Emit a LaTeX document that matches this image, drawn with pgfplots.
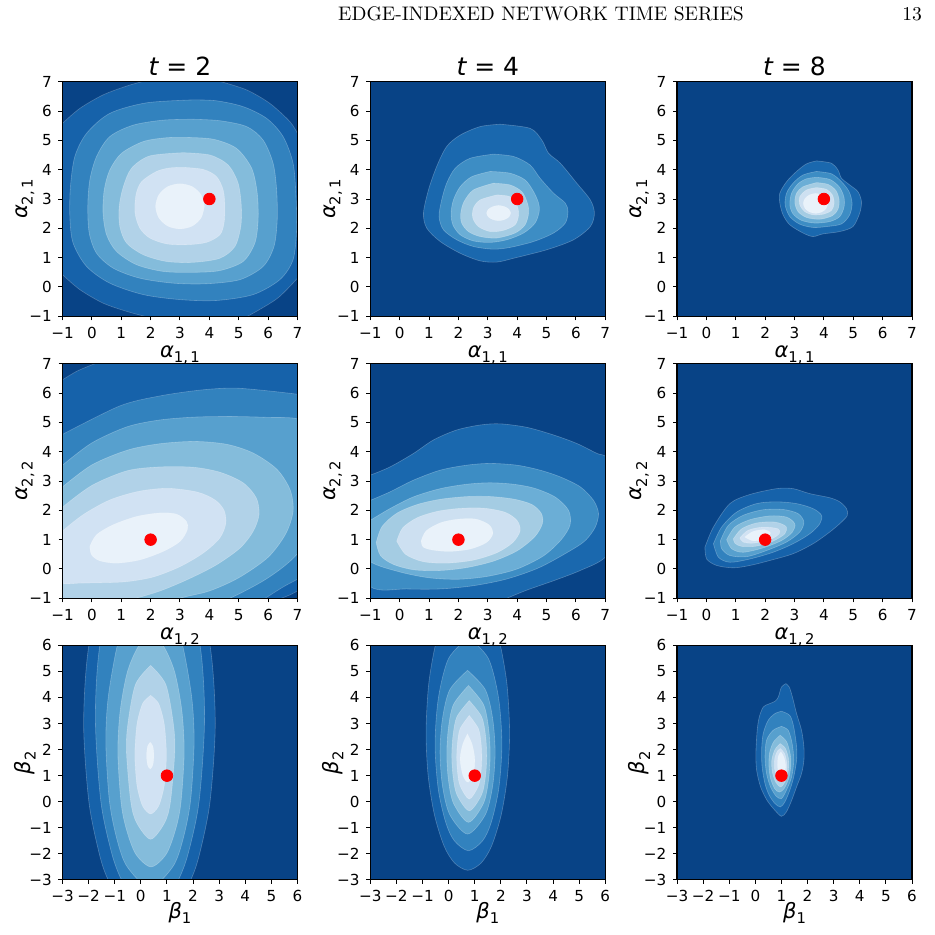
\documentclass[border=0pt]{standalone}
\usepackage{fontspec}
\usepackage{pgfplots}
\pgfplotsset{compat=1.18}
\newfontfamily\dejavu{DejaVu Sans}
\definecolor{c0}{RGB}{8,67,134}
\definecolor{c1}{RGB}{22,98,170}
\definecolor{c2}{RGB}{50,130,190}
\definecolor{c3}{RGB}{87,160,206}
\definecolor{c4}{RGB}{132,188,219}
\definecolor{c5}{RGB}{177,210,232}
\definecolor{c6}{RGB}{209,226,243}
\definecolor{c7}{RGB}{233,242,250}
\definecolor{d1}{RGB}{26,104,174}
\definecolor{d2}{RGB}{61,141,196}
\definecolor{d3}{RGB}{107,174,214}
\definecolor{d4}{RGB}{164,204,227}
\definecolor{d5}{RGB}{205,224,241}
\definecolor{d6}{RGB}{233,242,250}
\newcommand{\al}[2]{{\dejavu\itshape #1}\raisebox{-0.25em}{\dejavu\fontsize{7.4}{7.4}\selectfont #2}}
\newcommand{\band}[2]{\addplot[band=#1] coordinates {#2} -- cycle;}
\newcommand{\truth}[2]{\addplot[only marks,mark=*,mark size=2.9pt,color=red,mark options={draw=none,fill=red}] coordinates {(#1,#2)};}
\pgfplotsset{
  base/.style={width=117.5pt,height=117.3pt,scale only axis,axis on top,
    tick align=outside,tick pos=left,major tick length=2pt,
    major tick style={black,line width=0.5pt},
    axis line style={black,line width=0.55pt},
    tick label style={font=\dejavu\fontsize{7.6}{9}\selectfont},
    xticklabel shift=-0.2pt,yticklabel shift=-0.2pt,
    every axis title/.style={at={(0.5,1)},anchor=base,yshift=2.9pt,font=\dejavu\fontsize{12.5}{14}\selectfont},
    every axis y label/.style={at={(axis description cs:-0.16,0.5)},rotate=90,anchor=center,font=\dejavu\fontsize{10.5}{12}\selectfont},
    every axis x label/.style={at={(axis description cs:0.5,-0.165)},anchor=center,font=\dejavu\fontsize{10.5}{12}\selectfont},
    anchor=north west},
  ra/.style={xmin=-1,xmax=7,ymin=-1,ymax=7,xtick={-1,0,...,7},ytick={-1,0,...,7},
    xticklabels={−1,0,1,2,3,4,5,6,7},yticklabels={−1,0,1,2,3,4,5,6,7}},
  rb/.style={xmin=-3,xmax=6,ymin=-3,ymax=6,xtick={-3,-2,...,6},ytick={-3,-2,...,6},
    xticklabels={−3,−2,−1,0,1,2,3,4,5,6},yticklabels={−3,−2,−1,0,1,2,3,4,5,6},
    every axis x label/.style={at={(axis description cs:0.5,-0.14)},anchor=center,font=\dejavu\fontsize{10.5}{12}\selectfont}},
  band/.style={fill=#1,draw=white,draw opacity=0.25,line width=0.3pt,smooth},
}
\begin{document}
\begin{tikzpicture}
\path[use as bounding box] (0,0) rectangle (467.5pt,-467pt);
\node[anchor=base,font=\fontsize{9.8}{12}\selectfont] at (270.5pt,-10pt) {EDGE-INDEXED NETWORK TIME SERIES};
\node[anchor=base east,font=\fontsize{9.8}{12}\selectfont] at (464.5pt,-10pt) {13};

% ---------- row 1, col 1 ----------
\begin{axis}[base,ra,at={(31.25pt,-40.85pt)},axis background/.style={fill=c1},
  title={{\itshape t} = 2},xlabel={\al{α}{1,\,1}},ylabel={\al{α}{2,\,1}}]
\addplot[band=c0] coordinates {(-1,5.58) (-0.41,6.09) (0.38,6.55) (1.18,6.85) (1.7,7.0)} -- (axis cs:-2,8) -- cycle;
\addplot[band=c0] coordinates {(4.4,7.0) (5.27,6.72) (6.06,6.26) (6.74,5.64) (7.0,5.24)} -- (axis cs:8,8) -- cycle;
\addplot[band=c0] coordinates {(7.0,0.3) (6.3,-0.4) (5.3,-1.0)} -- (axis cs:8,-2) -- cycle;
\addplot[band=c0] coordinates {(1.8,-1.0) (1.18,-0.83) (0.38,-0.55) (-0.41,-0.09) (-1,0.42)} -- (axis cs:-2,-2) -- cycle;
\band{c2}{(3.45,6.38) (4.24,6.35) (5.15,6.15) (5.95,5.75) (6.51,5.13) (6.85,4.22) (6.95,3.08) (6.97,1.95) (6.85,0.93) (6.40,0.25) (5.49,-0.26) (4.24,-0.46) (3.00,-0.43) (1.75,-0.26) (0.61,0.13) (-0.18,0.70) (-0.64,1.50) (-0.75,2.40) (-0.73,3.42) (-0.58,4.45) (-0.18,5.24) (0.61,5.92) (1.86,6.28) (3.45,6.38)}
\band{c3}{(3.45,5.72) (4.36,5.67) (5.27,5.47) (5.83,5.01) (6.17,4.22) (6.29,3.31) (6.31,2.29) (6.20,1.38) (5.83,0.70) (5.04,0.25) (3.90,0.11) (2.77,0.13) (1.63,0.30) (0.73,0.64) (0.16,1.15) (-0.09,1.84) (-0.14,2.74) (-0.07,3.65) (0.16,4.45) (0.61,5.13) (1.41,5.52) (2.43,5.69) (3.45,5.72)}
\band{c4}{(3.22,5.10) (4.13,5.04) (4.92,4.73) (5.44,4.05) (5.63,3.20) (5.66,2.29) (5.55,1.50) (5.15,0.87) (4.36,0.56) (3.45,0.50) (2.43,0.53) (1.52,0.76) (0.84,1.21) (0.50,1.78) (0.38,2.52) (0.42,3.31) (0.61,3.99) (1.01,4.56) (1.75,4.96) (2.54,5.09) (3.22,5.10)}
\band{c5}{(3.11,4.58) (4.02,4.50) (4.64,4.16) (4.98,3.54) (5.09,2.74) (5.07,2.06) (4.87,1.38) (4.36,0.98) (3.45,0.84) (2.54,0.87) (1.75,1.10) (1.18,1.50) (0.95,2.06) (0.93,2.74) (1.07,3.42) (1.35,4.05) (1.97,4.47) (3.11,4.58)}
\band{c6}{(3.11,4.08) (3.79,4.01) (4.24,3.77) (4.47,3.31) (4.53,2.74) (4.50,2.18) (4.36,1.78) (3.90,1.52) (3.22,1.44) (2.54,1.47) (1.97,1.67) (1.63,2.01) (1.47,2.52) (1.50,3.14) (1.69,3.59) (2.20,3.94) (2.65,4.06) (3.11,4.08)}
\band{c7}{(3.83,2.75) (3.72,3.14) (3.42,3.42) (3.00,3.52) (2.58,3.42) (2.28,3.14) (2.17,2.75) (2.28,2.36) (2.58,2.08) (3.00,1.98) (3.42,2.08) (3.72,2.36) (3.83,2.75)}
\truth{4}{3}
\end{axis}

% ---------- row 1, col 2 ----------
\begin{axis}[base,ra,at={(185.15pt,-40.85pt)},axis background/.style={fill=c0},
  title={{\itshape t} = 4},xlabel={\al{α}{1,\,1}},ylabel={\al{α}{2,\,1}}]
\band{d1}{(3.42,5.55) (4.44,5.41) (4.84,5.01) (5.07,4.56) (5.47,4.22) (6.03,3.54) (6.49,2.97) (6.63,2.52) (6.49,2.06) (5.92,1.61) (5.01,1.27) (3.88,0.98) (3.31,0.85) (2.74,0.89) (2.06,1.15) (1.38,1.55) (0.92,2.01) (0.81,2.52) (0.98,3.31) (1.26,4.11) (1.60,4.79) (2.06,5.18) (2.74,5.47) (3.42,5.55)}
\band{d2}{(3.19,4.53) (3.88,4.45) (4.44,4.16) (4.78,3.71) (5.24,3.20) (5.64,2.86) (5.73,2.57) (5.64,2.18) (5.24,1.84) (4.56,1.55) (3.76,1.35) (3.19,1.29) (2.51,1.38) (1.94,1.61) (1.49,1.95) (1.34,2.40) (1.43,2.97) (1.60,3.54) (1.89,4.05) (2.40,4.39) (3.19,4.53)}
\band{d3}{(3.08,3.94) (3.76,3.88) (4.27,3.65) (4.56,3.25) (4.73,2.86) (4.75,2.57) (4.61,2.18) (4.22,1.84) (3.65,1.61) (3.08,1.52) (2.51,1.57) (2.06,1.78) (1.81,2.12) (1.75,2.52) (1.83,2.97) (2.06,3.42) (2.45,3.76) (3.08,3.94)}
\band{d4}{(3.19,3.54) (3.76,3.48) (4.16,3.25) (4.35,2.86) (4.39,2.52) (4.27,2.12) (3.93,1.84) (3.31,1.67) (2.74,1.72) (2.34,1.89) (2.11,2.18) (2.08,2.52) (2.19,2.91) (2.51,3.31) (3.19,3.54)}
\band{d5}{(3.31,3.14) (3.76,3.08) (3.99,2.80) (4.05,2.46) (3.93,2.12) (3.53,1.93) (3.08,1.89) (2.68,2.06) (2.49,2.35) (2.51,2.69) (2.74,2.97) (3.31,3.14)}
\band{d6}{(3.78,2.52) (3.72,2.65) (3.57,2.74) (3.37,2.78) (3.17,2.74) (3.02,2.65) (2.96,2.52) (3.02,2.39) (3.17,2.30) (3.37,2.26) (3.57,2.30) (3.72,2.39) (3.78,2.52)}
\truth{4}{3}
\end{axis}

% ---------- row 1, col 3 ----------
\begin{axis}[base,ra,at={(338.5pt,-40.85pt)},axis background/.style={fill=c0},
  title={{\itshape t} = 8},xlabel={\al{α}{1,\,1}},ylabel={\al{α}{2,\,1}}]
\band{d1}{(3.75,4.30) (4.26,4.22) (4.48,3.99) (4.60,3.71) (4.88,3.48) (5.16,3.25) (5.28,2.91) (5.22,2.52) (4.99,2.06) (4.54,1.89) (3.97,1.81) (3.63,1.72) (3.29,1.84) (2.84,2.12) (2.61,2.46) (2.50,2.86) (2.50,3.20) (2.73,3.59) (3.07,3.94) (3.41,4.20) (3.75,4.30)}
\band{d2}{(3.75,3.94) (4.26,3.86) (4.60,3.59) (4.86,3.25) (4.96,2.86) (4.88,2.46) (4.60,2.15) (4.09,2.06) (3.63,2.03) (3.18,2.14) (2.84,2.40) (2.68,2.80) (2.73,3.20) (2.95,3.54) (3.29,3.82) (3.75,3.94)}
\band{d3}{(3.75,3.74) (4.20,3.67) (4.52,3.42) (4.68,3.08) (4.69,2.74) (4.54,2.40) (4.20,2.23) (3.69,2.18) (3.24,2.27) (2.95,2.49) (2.84,2.80) (2.90,3.20) (3.12,3.52) (3.41,3.69) (3.75,3.74)}
\band{d4}{(3.75,3.56) (4.14,3.50) (4.41,3.29) (4.52,2.97) (4.48,2.65) (4.29,2.43) (3.86,2.31) (3.41,2.37) (3.12,2.57) (3.01,2.88) (3.07,3.20) (3.29,3.42) (3.75,3.56)}
\band{d5}{(3.75,3.39) (4.09,3.33) (4.29,3.14) (4.35,2.86) (4.26,2.61) (3.97,2.48) (3.63,2.46) (3.35,2.57) (3.18,2.80) (3.18,3.08) (3.41,3.31) (3.75,3.39)}
\band{d6}{(4.14,2.85) (4.08,3.02) (3.93,3.14) (3.72,3.19) (3.51,3.14) (3.36,3.02) (3.30,2.85) (3.36,2.68) (3.51,2.56) (3.72,2.51) (3.93,2.56) (4.08,2.68) (4.14,2.85)}
\truth{4}{3}
\end{axis}

% ---------- row 2, col 1 ----------
\begin{axis}[base,ra,at={(31.25pt,-181.85pt)},axis background/.style={fill=c2},
  xlabel={\al{α}{1,\,2}},ylabel={\al{α}{2,\,2}}]
\addplot[band=c1] coordinates {(-1.0,4.59) (0.95,5.56) (2.31,5.90) (3.68,6.10) (4.81,6.17) (5.95,6.08) (7.0,5.96)} -- (axis cs:8,8) -- (axis cs:-2,8) -- cycle;
\addplot[band=c1] coordinates {(7.0,-0.35) (6.5,-0.62) (5.9,-1.0)} -- (axis cs:8,-2) -- cycle;
\addplot[band=c0] coordinates {(-1,6.45) (-0.5,6.75) (0.1,7.0)} -- (axis cs:-2,8) -- cycle;
\addplot[band=c0] coordinates {(7.0,-0.75) (6.75,-0.88) (6.45,-1.0)} -- (axis cs:8,-2) -- cycle;
\band{c3}{(-1.0,3.54) (0.0,4.3) (1.2,4.85) (2.3,5.08) (3.5,5.18) (4.8,5.2) (6.0,5.17) (7.0,5.12) (7.8,4.7) (8.2,3.5) (8.0,2.0) (7.0,0.52) (6.0,-0.3) (4.7,-1.0) (3.0,-1.7) (1.0,-2.3) (-1.0,-2.3) (-2.5,-1.0) (-3,1.5) (-2.3,3.0) (-1.0,3.54)}
\band{c4}{(-1.0,2.80) (0.0,3.55) (1.2,4.05) (2.3,4.27) (3.5,4.35) (4.6,4.25) (5.5,3.95) (6.3,3.4) (6.75,2.7) (6.85,1.97) (6.6,1.2) (6.0,0.4) (5.0,-0.3) (4.0,-0.75) (3.0,-1.0) (1.5,-1.5) (0,-1.8) (-1.5,-1.5) (-2.5,0.0) (-2.2,1.8) (-1.0,2.80)}
\band{c5}{(-1.0,2.11) (0.0,2.85) (1.2,3.35) (2.3,3.48) (3.45,3.47) (4.36,3.3) (5.15,2.94) (5.6,2.42) (5.69,1.85) (5.49,1.28) (5.04,0.71) (4.24,0.14) (3.34,-0.32) (2.4,-0.72) (1.5,-1.0) (0.5,-1.25) (-0.5,-1.3) (-1.5,-1.0) (-2.2,0.2) (-2.0,1.4) (-1.0,2.11)}
\band{c6}{(-1.0,1.30) (-0.3,1.85) (0.6,2.35) (1.6,2.65) (2.6,2.75) (3.6,2.62) (4.2,2.35) (4.5,2.0) (4.56,1.55) (4.35,1.05) (3.8,0.55) (3.0,0.08) (2.1,-0.27) (1.2,-0.43) (0.3,-0.47) (-0.4,-0.48) (-1.0,-0.5) (-1.7,-0.3) (-2.0,0.4) (-1.0,1.30)}
\band{c7}{(-0.07,0.77) (0.16,1.17) (0.73,1.51) (1.52,1.79) (2.31,1.91) (2.88,1.87) (3.22,1.62) (3.25,1.34) (3.00,0.94) (2.43,0.60) (1.63,0.31) (0.84,0.20) (0.27,0.28) (-0.01,0.48) (-0.07,0.77)}
\truth{2}{1}
\end{axis}

% ---------- row 2, col 2 ----------
\begin{axis}[base,ra,at={(185.15pt,-181.85pt)},axis background/.style={fill=c0},
  xlabel={\al{α}{1,\,2}},ylabel={\al{α}{2,\,2}}]
\band{d1}{(-1.0,3.20) (-0.33,3.48) (0.47,3.94) (1.15,4.40) (1.94,4.74) (2.74,4.91) (3.42,4.95) (4.33,4.83) (5.24,4.57) (6.03,4.28) (6.72,3.94) (7.0,3.85) (7.6,3.4) (7.8,1.5) (7.0,0.40) (6.15,-0.05) (5.24,-0.40) (4.33,-0.72) (3.65,-1.0) (2.5,-1.5) (0.5,-1.8) (-1.0,-1.7) (-1.8,0.0) (-1.8,2.4) (-1.0,3.20)}
\band{d2}{(-1.0,2.34) (-0.33,2.63) (0.47,3.03) (1.38,3.37) (2.28,3.54) (3.08,3.60) (3.99,3.54) (4.78,3.37) (5.47,3.14) (6.15,2.80) (6.60,2.34) (6.77,1.89) (6.66,1.43) (6.35,1.0) (5.92,0.69) (4.78,0.06) (3.65,-0.34) (2.51,-0.57) (1.38,-0.68) (0.24,-0.68) (-1.0,-0.60) (-1.7,0.9) (-1.0,2.34)}
\band{d3}{(-1.0,1.66) (-0.33,2.06) (0.47,2.46) (1.38,2.74) (2.28,2.89) (3.08,2.94) (3.88,2.89) (4.6,2.75) (5.3,2.45) (5.75,2.0) (5.8,1.5) (5.5,1.0) (4.9,0.45) (4.0,0.0) (3.0,-0.25) (2.0,-0.35) (1.0,-0.3) (0.0,-0.1) (-1.0,0.25) (-1.6,1.0) (-1.0,1.66)}
\band{d4}{(-0.8,0.9) (-0.6,1.45) (-0.1,1.9) (0.6,2.2) (1.4,2.38) (2.3,2.47) (3.1,2.47) (3.9,2.38) (4.5,2.2) (4.82,1.9) (4.86,1.55) (4.6,1.1) (4.0,0.62) (3.2,0.27) (2.3,0.05) (1.4,-0.05) (0.5,-0.03) (-0.2,0.15) (-0.65,0.45) (-0.8,0.9)}
\band{d5}{(-0.1,0.95) (0.1,1.4) (0.6,1.75) (1.3,1.97) (2.1,2.07) (2.9,2.07) (3.6,1.93) (4.0,1.65) (4.1,1.3) (3.85,0.9) (3.3,0.55) (2.5,0.3) (1.6,0.2) (0.8,0.25) (0.2,0.5) (-0.1,0.95)}
\band{d6}{(0.73,0.95) (0.9,1.3) (1.4,1.58) (2.0,1.7) (2.6,1.7) (3.05,1.5) (3.17,1.2) (2.95,0.9) (2.4,0.68) (1.7,0.6) (1.1,0.65) (0.8,0.75) (0.73,0.95)}
\truth{2}{1}
\end{axis}

% ---------- row 2, col 3 ----------
\begin{axis}[base,ra,at={(338.5pt,-181.85pt)},axis background/.style={fill=c0},
  xlabel={\al{α}{1,\,2}},ylabel={\al{α}{2,\,2}}]
\band{c1}{(-0.05,0.74) (0.24,1.43) (0.80,2.23) (1.48,2.54) (2.39,2.74) (2.95,2.74) (3.52,2.57) (4.20,2.43) (4.54,2.29) (4.77,2.06) (4.80,1.83) (4.60,1.60) (4.20,1.26) (3.63,0.86) (2.95,0.52) (2.16,0.29) (1.48,0.12) (0.92,0.04) (0.35,0.12) (0.01,0.34) (-0.05,0.74)}
\band{c2}{(0.24,0.86) (0.52,1.43) (1.03,1.94) (1.71,2.23) (2.39,2.29) (3.07,2.23) (3.63,2.06) (3.92,1.83) (3.86,1.54) (3.52,1.20) (2.95,0.86) (2.27,0.57) (1.48,0.34) (0.80,0.23) (0.41,0.40) (0.24,0.86)}
\band{c3}{(0.48,0.97) (0.75,1.49) (1.25,1.83) (1.93,2.02) (2.61,2.03) (3.12,1.89) (3.32,1.60) (3.18,1.26) (2.73,0.92) (2.05,0.63) (1.37,0.42) (0.80,0.46) (0.52,0.69) (0.48,0.97)}
\band{c4}{(0.69,1.00) (0.97,1.43) (1.48,1.68) (2.16,1.81) (2.73,1.77) (3.01,1.54) (2.93,1.26) (2.56,0.97) (1.93,0.72) (1.25,0.57) (0.86,0.69) (0.69,1.00)}
\band{c5}{(0.92,1.03) (1.20,1.37) (1.71,1.57) (2.33,1.60) (2.71,1.45) (2.67,1.20) (2.27,0.95) (1.71,0.78) (1.20,0.77) (0.97,0.88) (0.92,1.03)}
\band{c6}{(1.14,1.06) (1.42,1.32) (1.93,1.43) (2.44,1.37) (2.48,1.20) (2.16,1.00) (1.59,0.88) (1.25,0.92) (1.14,1.06)}
\band{c7}{(1.31,1.09) (1.59,1.28) (1.99,1.34) (2.18,1.22) (1.99,1.03) (1.59,0.96) (1.31,1.09)}
\truth{2}{1}
\end{axis}

% ---------- row 3, col 1 ----------
\begin{axis}[base,rb,at={(31.25pt,-322.65pt)},axis background/.style={fill=c0},
  xlabel={\al{β}{1}},ylabel={\al{β}{2}}]
\band{c1}{(0.33,10.7) (1.91,9) (2.65,6) (2.85,3) (2.65,0) (2.25,-2) (1.91,-3) (1.22,-4.2) (0.33,-4.7) (-0.54,-4.2) (-1.25,-3) (-1.59,-2) (-1.99,0) (-2.19,3) (-1.99,6) (-1.25,9) (0.33,10.7)}
\band{c2}{(0.35,10.35) (1.57,9) (2.27,6) (2.44,3.15) (2.23,0) (1.81,-2) (1.44,-3) (0.99,-3.7) (0.35,-4.05) (-0.29,-3.7) (-0.74,-3) (-1.11,-2) (-1.53,0) (-1.74,3.15) (-1.57,6) (-0.87,9) (0.35,10.35)}
\band{c3}{(0.35,7.8) (1.22,7) (1.6,6) (1.95,4) (2.04,2.25) (1.9,0) (1.6,-1.5) (1.22,-2.5) (0.35,-3.3) (-0.52,-2.5) (-0.9,-1.5) (-1.2,0) (-1.34,2.25) (-1.25,4) (-0.9,6) (-0.52,7) (0.35,7.8)}
\band{c4}{(0.39,6.3) (0.85,6) (1.29,5) (1.57,3.5) (1.66,1.9) (1.54,0) (1.35,-1) (0.98,-2) (0.39,-2.5) (-0.2,-2) (-0.57,-1) (-0.76,0) (-0.88,1.9) (-0.79,3.5) (-0.51,5) (-0.07,6) (0.39,6.3)}
\band{c5}{(0.375,5.23) (0.955,4.5) (1.245,3) (1.3,1.9) (1.135,0) (0.915,-0.8) (0.375,-1.44) (-0.165,-0.8) (-0.385,0) (-0.55,1.9) (-0.495,3) (-0.205,4.5) (0.375,5.23)}
\band{c6}{(0.375,4.08) (0.665,3.8) (0.83,3.3) (0.92,2.8) (0.98,1.8) (0.92,0.8) (0.83,0.3) (0.665,-0.2) (0.375,-0.47) (0.085,-0.2) (-0.08,0.3) (-0.17,0.8) (-0.23,1.8) (-0.17,2.8) (-0.08,3.3) (0.085,3.8) (0.375,4.08)}
\band{c7}{(0.36,2.28) (0.46,2.13) (0.5,1.77) (0.46,1.41) (0.36,1.26) (0.26,1.41) (0.22,1.77) (0.26,2.13) (0.36,2.28)}
\truth{1}{1}
\end{axis}

% ---------- row 3, col 2 ----------
\begin{axis}[base,rb,at={(185.15pt,-322.65pt)},axis background/.style={fill=c0},
  xlabel={\al{β}{1}},ylabel={\al{β}{2}}]
\band{c1}{(0.735,7.97) (1.655,7) (1.98,6) (2.235,4.5) (2.335,2.67) (2.255,1) (2.015,-0.5) (1.645,-1.7) (1.245,-2.35) (0.735,-2.63) (0.225,-2.35) (-0.175,-1.7) (-0.545,-0.5) (-0.785,1) (-0.865,2.67) (-0.765,4.5) (-0.51,6) (-0.185,7) (0.735,7.97)}
\band{c2}{(0.76,6.3) (1.52,5.5) (1.91,4) (2.04,2.21) (1.92,0.5) (1.63,-0.8) (1.3,-1.5) (0.76,-1.88) (0.22,-1.5) (-0.11,-0.8) (-0.4,0.5) (-0.52,2.21) (-0.39,4) (0.0,5.5) (0.76,6.3)}
\band{c3}{(0.725,5.04) (1.405,4.3) (1.685,3.2) (1.78,1.9) (1.685,0.6) (1.405,-0.5) (0.725,-1.24) (0.045,-0.5) (-0.235,0.6) (-0.33,1.9) (-0.235,3.2) (0.045,4.3) (0.725,5.04)}
\band{c4}{(0.76,4.46) (1.333,3.735) (1.528,2.835) (1.59,1.835) (1.528,0.835) (1.333,-0.065) (0.76,-0.79) (0.187,-0.065) (-0.008,0.835) (-0.07,1.835) (-0.008,2.835) (0.187,3.735) (0.76,4.46)}
\band{c5}{(0.79,3.88) (1.262,3.265) (1.41,2.565) (1.46,1.765) (1.41,0.965) (1.262,0.265) (0.79,-0.35) (0.318,0.265) (0.17,0.965) (0.12,1.765) (0.17,2.565) (0.318,3.265) (0.79,3.88)}
\band{c6}{(0.79,3.31) (1.14,2.805) (1.241,2.255) (1.27,1.705) (1.241,1.155) (1.14,0.605) (0.79,0.10) (0.44,0.605) (0.339,1.155) (0.31,1.705) (0.339,2.255) (0.44,2.805) (0.79,3.31)}
\band{c7}{(0.72,2.6) (0.9,2.2) (1.0,1.64) (0.95,1.1) (0.75,0.75) (0.55,1.0) (0.44,1.64) (0.54,2.2) (0.72,2.6)}
\truth{1}{1}
\end{axis}

% ---------- row 3, col 3 ----------
\begin{axis}[base,rb,at={(338.5pt,-322.65pt)},axis background/.style={fill=c0},
  xlabel={\al{β}{1}},ylabel={\al{β}{2}}]
\band{c1}{(1.17,4.53) (1.30,4.40) (1.42,4.02) (1.58,3.38) (1.77,2.74) (1.86,2.10) (1.86,1.59) (1.77,1.08) (1.58,0.57) (1.39,0.05) (1.19,-0.39) (1.00,-0.56) (0.75,-0.33) (0.45,0.05) (0.20,0.57) (0.05,1.20) (0.02,1.84) (0.07,2.74) (0.15,3.25) (0.30,3.63) (0.49,3.74) (0.75,3.85) (0.88,4.02) (1.00,4.40) (1.17,4.53)}
\band{c2}{(1.00,3.47) (1.32,3.31) (1.47,2.87) (1.58,2.10) (1.58,1.59) (1.47,0.95) (1.32,0.44) (1.13,-0.01) (0.96,-0.20) (0.75,-0.07) (0.53,0.25) (0.37,0.69) (0.26,1.33) (0.24,1.97) (0.30,2.61) (0.49,3.12) (0.75,3.38) (1.00,3.47)}
\band{c3}{(1.00,2.89) (1.26,2.74) (1.41,2.23) (1.47,1.59) (1.39,0.95) (1.19,0.44) (1.00,0.12) (0.79,0.22) (0.58,0.57) (0.43,1.08) (0.37,1.72) (0.43,2.36) (0.68,2.74) (1.00,2.89)}
\band{c4}{(0.95,2.55) (1.2,2.3) (1.34,1.8) (1.36,1.4) (1.28,0.9) (1.1,0.5) (0.92,0.37) (0.74,0.5) (0.58,0.9) (0.52,1.4) (0.55,1.9) (0.7,2.3) (0.95,2.55)}
\band{c5}{(0.95,2.23) (1.15,2.05) (1.27,1.65) (1.28,1.3) (1.18,0.85) (0.98,0.57) (0.78,0.75) (0.65,1.15) (0.63,1.6) (0.75,2.0) (0.95,2.23)}
\band{c6}{(0.96,2.04) (1.12,1.85) (1.21,1.45) (1.18,1.05) (1.02,0.76) (0.85,0.92) (0.73,1.3) (0.75,1.7) (0.85,1.95) (0.96,2.04)}
\band{c7}{(0.98,1.91) (1.1,1.7) (1.16,1.35) (1.1,1.05) (1.0,0.95) (0.9,1.08) (0.85,1.4) (0.88,1.75) (0.98,1.91)}
\truth{1}{1}
\end{axis}
\end{tikzpicture}
\end{document}
